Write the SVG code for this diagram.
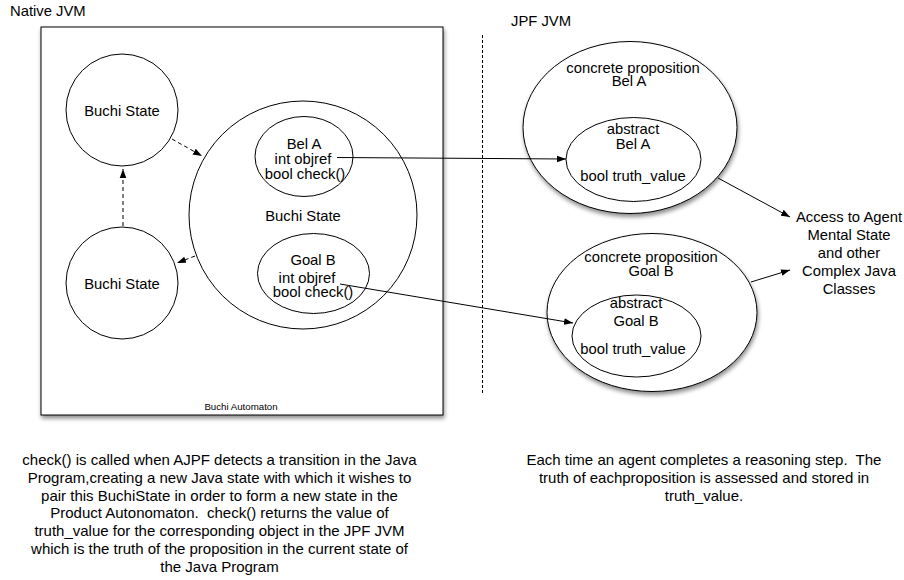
<svg xmlns="http://www.w3.org/2000/svg" width="904" height="580" viewBox="0 0 904 580">
<style>
text{font-family:"Liberation Sans",Arial,sans-serif;font-size:14.8px;fill:#000;text-anchor:middle}
.note text{font-size:15px;white-space:pre}
.shape{fill:#fff;stroke:#000;stroke-width:1}
.inner{fill:none;stroke:#000;stroke-width:1}
.conn{fill:none;stroke:#000;stroke-width:1}
.dash{stroke-dasharray:4 3}
.start{text-anchor:start}
</style>
<defs>
<filter id="sh" x="-10%" y="-10%" width="125%" height="125%">
<feDropShadow dx="1" dy="3" stdDeviation="2" flood-color="#000" flood-opacity="0.45"/>
</filter>
<marker id="ah" markerUnits="userSpaceOnUse" markerWidth="10" markerHeight="8" refX="9" refY="4" orient="auto">
<path d="M0,0.7 L9,4 L0,7.3 Z" fill="#000"/>
</marker>
</defs>
<rect width="904" height="580" fill="#fff"/>
<text class="start" x="10" y="16">Native JVM</text>
<text class="start" x="511" y="26">JPF JVM</text>
<g id="automaton">
<rect class="shape" x="41" y="27" width="402" height="388" filter="url(#sh)"/>
<text x="241" y="409.5" style="font-size:9.7px">Buchi Automaton</text>
</g>
<g id="buchi-top">
<circle class="shape" cx="122" cy="110" r="56"/>
<text x="122" y="116">Buchi State</text>
</g>
<g id="buchi-bottom">
<circle class="shape" cx="122" cy="283" r="56"/>
<text x="122" y="289">Buchi State</text>
</g>
<g id="buchi-main">
<circle class="shape" cx="303" cy="215" r="114"/>
<text x="303" y="221">Buchi State</text>
</g>
<g id="bel-a">
<ellipse class="inner" cx="304" cy="156.5" rx="49" ry="40"/>
<text x="304" y="148.5">Bel A</text>
<text x="303" y="163.5">int objref</text>
<text x="305" y="178.5">bool check()</text>
</g>
<g id="goal-b">
<ellipse class="inner" cx="313.5" cy="273.5" rx="56" ry="40"/>
<text x="313" y="264.5">Goal B</text>
<text x="307" y="282.5">int objref</text>
<text x="313" y="296.5">bool check()</text>
</g>
<g id="concrete-bel-a">
<ellipse class="shape" cx="630" cy="127.5" rx="107" ry="86" filter="url(#sh)"/>
<text x="633" y="72.5">concrete proposition</text>
<text x="629" y="86">Bel A</text>
</g>
<g id="abstract-bel-a">
<ellipse class="inner" cx="633.5" cy="159.5" rx="67.5" ry="42"/>
<text x="633" y="134">abstract</text>
<text x="633" y="148.5">Bel A</text>
<text x="633" y="181">bool truth_value</text>
</g>
<g id="concrete-goal-b">
<ellipse class="shape" cx="652" cy="312.5" rx="105" ry="79" filter="url(#sh)"/>
<text x="651" y="262">concrete proposition</text>
<text x="651" y="275.5">Goal B</text>
</g>
<g id="abstract-goal-b">
<ellipse class="inner" cx="636.5" cy="336" rx="64.5" ry="41"/>
<text x="636" y="308">abstract</text>
<text x="636" y="326">Goal B</text>
<text x="633" y="354">bool truth_value</text>
</g>
<g id="access">
<text x="849" y="222">Access to Agent</text>
<text x="849" y="240">Mental State</text>
<text x="849" y="258">and other</text>
<text x="849" y="276">Complex Java</text>
<text x="849" y="294">Classes</text>
</g>
<g id="connectors">
<line class="conn" x1="482.5" y1="35" x2="482.5" y2="395" stroke-dasharray="3 2"/>
<line class="conn dash" x1="172" y1="139" x2="202" y2="156" marker-end="url(#ah)"/>
<line class="conn dash" x1="123" y1="226" x2="123" y2="169" marker-end="url(#ah)"/>
<line class="conn dash" x1="195" y1="256" x2="177" y2="263" marker-end="url(#ah)"/>
<line class="conn" x1="337" y1="157.5" x2="566" y2="159" marker-end="url(#ah)"/>
<line class="conn" x1="340" y1="284" x2="573" y2="323" marker-end="url(#ah)"/>
<line class="conn" x1="718" y1="178" x2="790" y2="217" marker-end="url(#ah)"/>
<line class="conn" x1="751" y1="282" x2="790" y2="270" marker-end="url(#ah)"/>
</g>
<g id="note-left" class="note">
<text x="219.5" y="465" xml:space="preserve">check() is called when AJPF detects a transition in the Java</text>
<text x="219.5" y="482.8" xml:space="preserve">Program,creating a new Java state with which it wishes to</text>
<text x="219.5" y="500.6" xml:space="preserve">pair this BuchiState in order to form a new state in the</text>
<text x="219.5" y="518.4" xml:space="preserve">Product Autonomaton.  check() returns the value of</text>
<text x="219.5" y="536.2" xml:space="preserve">truth_value for the corresponding object in the JPF JVM</text>
<text x="219.5" y="554" xml:space="preserve">which is the truth of the proposition in the current state of</text>
<text x="219.5" y="571.8" xml:space="preserve">the Java Program</text>
</g>
<g id="note-right" class="note">
<text x="704" y="465" xml:space="preserve">Each time an agent completes a reasoning step.  The</text>
<text x="704" y="483" xml:space="preserve">truth of eachproposition is assessed and stored in</text>
<text x="704" y="500.5" xml:space="preserve">truth_value.</text>
</g>
</svg>
